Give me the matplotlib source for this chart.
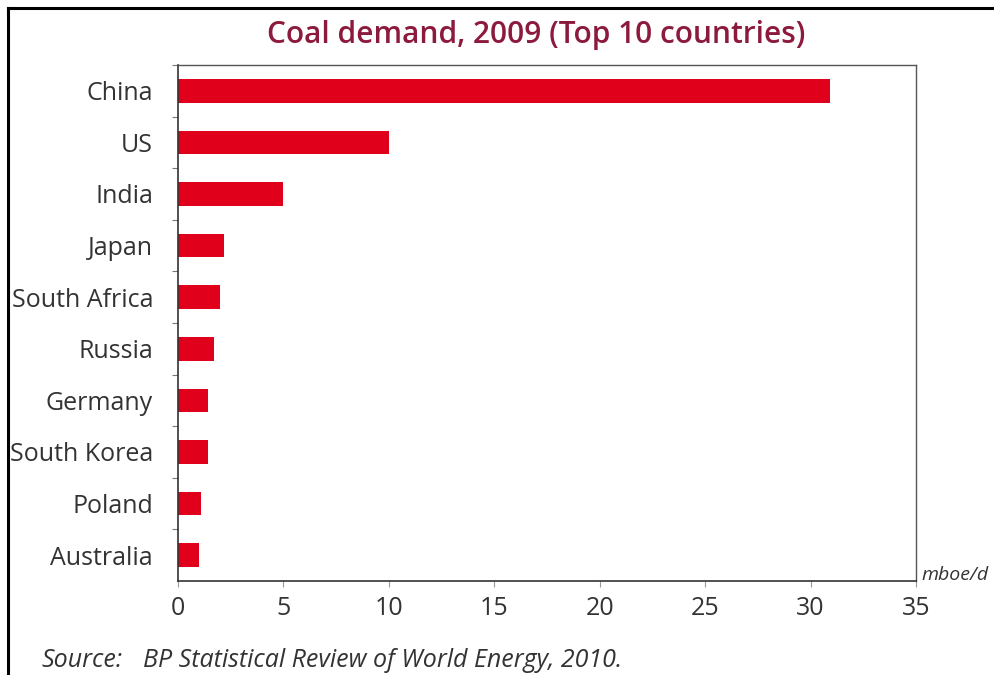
import matplotlib.pyplot as plt
from matplotlib.lines import Line2D

# Coal demand by country, 2009 (mboe/d)
countries = ['China', 'US', 'India', 'Japan', 'South Africa', 'Russia',
             'Germany', 'South Korea', 'Poland', 'Australia']
demand = [30.9, 10.0, 5.0, 2.2, 2.0, 1.7, 1.4, 1.4, 1.1, 1.0]

x_ticks = [0, 5, 10, 15, 20, 25, 30, 35]

bar_color = '#e0001b'
text_color = '#333333'
title_color = '#8c1a3c'

plt.rcParams['font.family'] = ['Open Sans', 'DejaVu Sans']

W, H = 994, 675
fig = plt.figure(figsize=(W / 100, H / 100), dpi=100)
ax = fig.add_axes([178 / W, 1 - 581 / H, (916 - 178) / W, (581 - 65) / H])

pos = list(range(len(countries)))
ax.barh(pos, demand, height=0.46, color=bar_color, edgecolor='none')

ax.set_xlim(0, 35)
ax.set_ylim(len(countries) - 0.5, -0.5)

ax.set_xticks(x_ticks)
ax.set_xticklabels([str(t) for t in x_ticks], fontsize=18, color=text_color)
ax.tick_params(axis='x', length=4, width=0.8, color='#999999', pad=7)

# labels centred on bars, ticks on category boundaries
ax.set_yticks(pos)
ax.set_yticklabels(countries, fontsize=18, color=text_color)
ax.tick_params(axis='y', which='major', length=0, pad=18)
ax.set_yticks([p - 0.5 for p in pos], minor=True)
ax.tick_params(axis='y', which='minor', length=4, width=0.8, color='#777777')

for side in ['left', 'bottom']:
    ax.spines[side].set_color('#333333')
    ax.spines[side].set_linewidth(1.2)
for side in ['top', 'right']:
    ax.spines[side].set_color('#555555')
    ax.spines[side].set_linewidth(1.0)

fig.text(536 / W, 1 - 43 / H, 'Coal demand, 2009 (Top 10 countries)',
         ha='center', va='baseline', fontsize=21.5, fontweight='semibold',
         color=title_color)
fig.text(921 / W, 1 - 580 / H, 'mboe/d', ha='left', va='baseline',
         fontsize=14, style='italic', color=text_color)
fig.text(42 / W, 1 - 667 / H, 'Source:', ha='left', va='baseline',
         fontsize=18, style='italic', color=text_color)
fig.text(143 / W, 1 - 667 / H, 'BP Statistical Review of World Energy, 2010.',
         ha='left', va='baseline', fontsize=18, style='italic', color=text_color)

# outer frame on the left and top edges
fig.add_artist(Line2D([8 / W, 8 / W], [0, 1 - 8 / H], color='black',
                      lw=2.2, transform=fig.transFigure))
fig.add_artist(Line2D([8 / W, 1], [1 - 8 / H, 1 - 8 / H], color='black',
                      lw=2.2, transform=fig.transFigure))

fig.savefig('out.png', dpi=100)
